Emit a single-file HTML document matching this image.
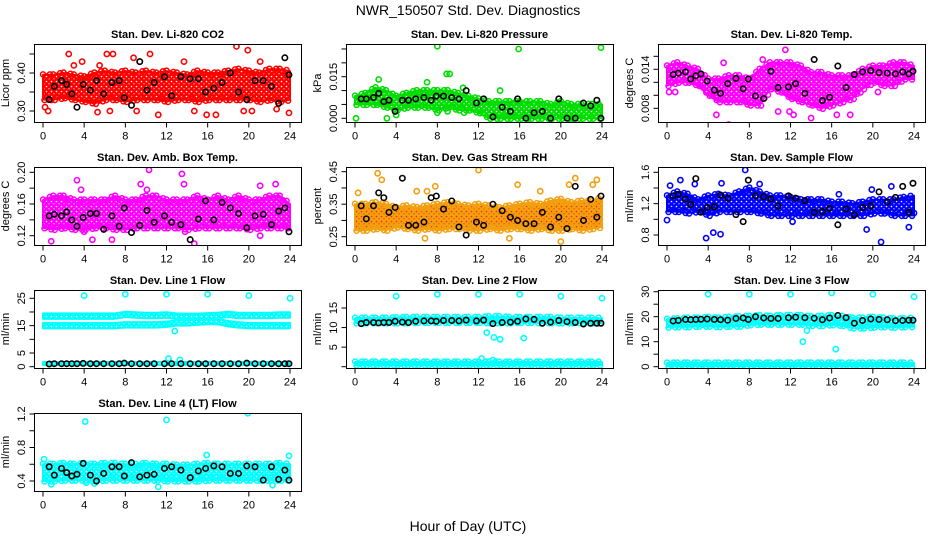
<!DOCTYPE html>
<html><head><meta charset="utf-8"><style>
html,body{margin:0;padding:0;background:#fff;}
svg{display:block;font-family:"Liberation Sans",sans-serif;}
</style></head><body>
<svg id="chart" width="936" height="540" viewBox="0 0 936 540">
<text x="468" y="15" font-size="14" text-anchor="middle">NWR_150507  Std. Dev. Diagnostics</text>
<text x="468" y="531" font-size="14" text-anchor="middle">Hour of Day (UTC)</text>
</svg>
<script>
const xTicks = [0,4,8,12,16,20,24];
const bandHours = [0,1,2,3,4,5,6,7,8,9,10,11,12,13,14,15,16,17,18,19,20,21,22,23,24];
const blkHours = [0.6,1.1,1.8,2.3,2.8,3.3,3.9,4.6,5.2,5.9,6.7,7.4,7.9,8.6,9.4,10.1,10.8,11.8,12.5,13.4,14.3,15.1,15.8,16.6,17.4,18.2,19.0,19.8,20.6,21.4,22.2,22.9,23.5,23.9];

// CO2
const co2Lo = [0.33,0.33,0.335,0.33,0.325,0.32,0.33,0.33,0.325,0.33,0.33,0.33,0.325,0.33,0.33,0.325,0.33,0.33,0.33,0.33,0.33,0.325,0.33,0.325,0.33];
const co2Hi = [0.395,0.395,0.4,0.395,0.39,0.4,0.405,0.4,0.405,0.4,0.405,0.4,0.405,0.4,0.395,0.405,0.4,0.4,0.405,0.41,0.405,0.4,0.41,0.41,0.405];
const co2OutX = [0.2,0.5,2.5,3.0,3.8,5.5,6.2,6.5,6.8,8.8,9.1,10.4,11.2,13.7,14.7,15.9,16.8,18.8,19.5,19.9,20.3,21.1,22.7,23.9,5.3];
const co2OutY = [0.31,0.3,0.45,0.42,0.43,0.42,0.45,0.3,0.45,0.44,0.3,0.45,0.29,0.43,0.3,0.29,0.29,0.47,0.3,0.46,0.3,0.43,0.305,0.295,0.297];
const co2Blk = [0.33,0.365,0.38,0.37,0.345,0.31,0.37,0.355,0.38,0.345,0.375,0.38,0.335,0.315,0.43,0.355,0.375,0.39,0.34,0.39,0.385,0.385,0.35,0.36,0.375,0.4,0.35,0.33,0.38,0.38,0.365,0.32,0.44,0.395];
// Pressure
const prLo = [0.005,0.005,0.005,0.004,0.003,0.004,0.004,0.004,0.003,0.004,0.003,0.003,0.002,0,0,0,0,0,0,0,0,0,0,0,0];
const prHi = [0.008,0.009,0.011,0.010,0.008,0.009,0.010,0.010,0.010,0.010,0.009,0.008,0.007,0.006,0.006,0.006,0.006,0.006,0.006,0.005,0.006,0.005,0.005,0.005,0.005];
const prOutX = [0.1,2.3,3.1,7.0,8.0,8.0,8.9,9.2,9.0,10.5,14.1,15.9,23.9,10.6,4.0];
const prOutY = [0,0.014,0,0.013,0.026,0.002,0.016,0.016,0.0025,0.011,0.010,0.025,0.0255,0.002,0.0012];
const prBlk = [0.007,0.007,0.0075,0.009,0.006,0.0065,0.0025,0.0065,0.0065,0.007,0.0075,0.0065,0.008,0.008,0.0075,0.007,0.01,0.0055,0.007,0.0005,0.004,0.0025,0.007,0.0,0.002,0.0025,0.0,0.007,0.0,0.0,0.0055,0.0045,0.0065,0.0];
// Li-820 Temp
const tpLo = [0.0115,0.012,0.012,0.0115,0.010,0.009,0.009,0.009,0.0085,0.0085,0.011,0.0105,0.0095,0.009,0.0085,0.008,0.0085,0.009,0.0095,0.011,0.012,0.0115,0.0115,0.0125,0.0125];
const tpHi = [0.0145,0.015,0.0145,0.014,0.0125,0.0125,0.013,0.013,0.0125,0.014,0.015,0.015,0.015,0.0145,0.0135,0.0135,0.013,0.013,0.013,0.014,0.0145,0.0145,0.015,0.015,0.0145];
const tpOutX = [0.2,0.8,4.8,5.5,6.0,9.3,10.8,11.5,11.9,12.3,14.0,15.8,16.5,17.8,15.5,20.5];
const tpOutY = [0.0105,0.0105,0.007,0.015,0.0055,0.0155,0.0075,0.017,0.0075,0.007,0.0065,0.005,0.007,0.007,0.0085,0.0105];
const tpBlk = [0.0132,0.0134,0.0136,0.0125,0.013,0.0133,0.0122,0.0108,0.0103,0.0118,0.0126,0.011,0.0125,0.0099,0.0095,0.0137,0.0112,0.0113,0.0118,0.0103,0.0155,0.0092,0.0097,0.0145,0.0112,0.0132,0.0136,0.0138,0.0135,0.0134,0.0133,0.0136,0.0133,0.0137];
// Amb box temp
const abLo = [0.13,0.128,0.13,0.128,0.128,0.13,0.13,0.128,0.128,0.13,0.13,0.13,0.13,0.13,0.128,0.13,0.13,0.13,0.13,0.13,0.128,0.13,0.13,0.13,0.13];
const abHi = [0.165,0.17,0.17,0.165,0.165,0.165,0.165,0.17,0.165,0.165,0.17,0.17,0.165,0.165,0.165,0.17,0.165,0.17,0.165,0.17,0.165,0.165,0.17,0.17,0.16];
const abOutX = [0.8,3.3,4.8,6.7,9.5,10.3,10.1,13.5,13.7,14.7,13.8,21.1,21.1,22.6,3.7,4.0];
const abOutY = [0.113,0.19,0.115,0.115,0.185,0.203,0.178,0.198,0.185,0.11,0.125,0.12,0.183,0.185,0.178,0.125];
const abBlk = [0.145,0.147,0.145,0.15,0.14,0.132,0.143,0.148,0.148,0.128,0.145,0.132,0.155,0.124,0.133,0.152,0.137,0.145,0.137,0.134,0.115,0.141,0.164,0.14,0.162,0.155,0.148,0.13,0.145,0.147,0.134,0.151,0.155,0.125];
// Gas stream RH
const rhLo = [0.27,0.27,0.275,0.27,0.28,0.275,0.27,0.275,0.27,0.275,0.275,0.27,0.27,0.275,0.27,0.275,0.275,0.27,0.275,0.27,0.27,0.275,0.27,0.275,0.28];
const rhHi = [0.35,0.35,0.355,0.35,0.34,0.345,0.34,0.345,0.35,0.355,0.35,0.345,0.35,0.345,0.34,0.345,0.35,0.355,0.35,0.36,0.365,0.355,0.36,0.36,0.37];
const rhOutX = [0.3,2.2,2.6,6.0,7.0,7.8,12.0,15.8,18.0,20.0,21.4,20.8,23.1,23.5,6.8,15.0];
const rhOutY = [0.385,0.445,0.425,0.39,0.39,0.405,0.455,0.41,0.39,0.235,0.43,0.41,0.41,0.425,0.245,0.245];
const rhBlk = [0.345,0.305,0.345,0.385,0.37,0.325,0.34,0.43,0.285,0.285,0.295,0.37,0.375,0.335,0.36,0.28,0.255,0.295,0.285,0.35,0.33,0.31,0.3,0.29,0.29,0.325,0.28,0.31,0.275,0.405,0.3,0.365,0.31,0.375];
// Sample flow
const sfLo = [1.1,1.1,1.08,1.1,1.05,1.1,1.1,1.1,1.1,1.08,1.05,1.05,1.05,1.05,1.05,1.05,1.05,1.05,1.05,1.05,1.08,1.08,1.05,1.05,1.05];
const sfHi = [1.3,1.35,1.32,1.25,1.3,1.32,1.3,1.35,1.4,1.35,1.3,1.3,1.28,1.25,1.25,1.25,1.22,1.22,1.2,1.22,1.25,1.25,1.25,1.28,1.3];
const sfOutX = [0.0,0.3,1.3,2.7,3.8,4.5,5.2,5.3,7.6,9.0,12.2,19.4,20.8,21.8,23.5,24,16.7,19.9];
const sfOutY = [0.99,1.43,1.5,1.45,0.76,0.83,0.81,1.46,1.63,1.45,0.97,0.87,0.71,1.42,0.9,1.08,1.32,1.38];
const sfBlk = [1.3,1.32,1.26,1.19,1.52,1.09,1.15,1.16,1.31,1.27,1.06,0.97,1.5,1.3,1.29,1.26,1.17,1.3,1.27,1.24,1.09,1.1,1.14,0.93,1.13,1.06,1.15,1.17,1.35,1.22,1.28,1.42,1.09,1.46];
// Line 1 flow
const l1aLo = [17.5,17.5,17.5,17.5,17.5,17.5,17.5,17.5,18.1,17.9,17.7,17.7,17.9,17.5,17.4,17.4,17.6,17.7,18.1,17.7,17.7,17.7,17.7,17.9,17.9];
const l1aHi = [19.5,19.5,19.5,19.5,19.5,19.5,19.5,19.5,20.1,19.9,19.7,19.7,19.9,19.5,19.4,19.4,19.6,19.7,20.1,19.7,19.7,19.7,19.7,19.9,19.9];
const l1bLo = [14.0,14.0,14.0,14.0,14.0,14.0,14.0,14.0,14.3,14.3,14.3,14.3,14.5,15.0,15.0,15.3,15.5,15.5,14.7,14.3,14.0,14.0,14.0,14.0,14.0];
const l1bHi = [16.0,16.0,16.0,16.0,16.0,16.0,16.0,16.0,16.3,16.3,16.3,16.3,16.5,17.0,17.0,17.3,17.5,17.5,16.7,16.3,16.0,16.0,16.0,16.0,16.0];
const l1cLo = [0.6,0.6,0.6,0.6,0.6,0.6,0.6,0.6,0.6,0.6,0.6,0.6,0.6,0.6,0.6,0.6,0.6,0.6,0.6,0.6,0.6,0.6,0.6,0.6,0.6];
const l1cHi = [1.7,1.7,1.7,1.7,1.7,1.7,1.7,1.7,1.7,1.7,1.7,1.7,1.7,1.7,1.7,1.7,1.7,1.7,1.7,1.7,1.7,1.7,1.7,1.7,1.7];
const l1OutX = [4,8,12,16,20,24,12.2,13.3,12.8];
const l1OutY = [26,26.5,26.5,26.5,26,25,3,2.5,13];
const l1Blk = [1.0,1.1,1.1,1.1,1.1,1.1,1.2,1.1,1.1,1.1,1.1,1.1,1.3,1.1,1.1,1.1,1.1,1.1,1.1,1.1,1.1,1.1,1.1,1.1,1.1,1.1,1.1,1.3,1.1,1.1,1.1,1.1,1.1,1.1];
// Line 2 flow
const l2aLo = [11.2,11.2,11.2,11.2,11.2,11.2,11.3,11.3,11.3,11.3,11.3,11.3,11.3,11.2,11.2,11.2,11.3,11.3,11.2,11.2,11.2,11.2,11.2,11.2,11.2];
const l2aHi = [12.4,12.4,12.4,12.4,12.5,12.6,12.6,12.6,12.6,12.6,12.6,12.6,12.6,12.8,12.8,12.6,12.6,12.6,12.6,12.6,12.4,12.4,12.4,12.4,12.4];
const l2bLo = [0.4,0.4,0.4,0.4,0.4,0.4,0.4,0.4,0.4,0.4,0.4,0.4,0.4,0.4,0.4,0.4,0.4,0.4,0.4,0.4,0.4,0.4,0.4,0.4,0.4];
const l2bHi = [1.2,1.2,1.2,1.2,1.2,1.2,1.2,1.2,1.2,1.2,1.2,1.2,1.2,1.2,1.2,1.2,1.2,1.2,1.2,1.2,1.2,1.2,1.2,1.2,1.2];
const l2OutX = [4,8,12,16,20,24,12.8,13.5,14.1,16.4,12.3,13.4];
const l2OutY = [18,18.5,18.5,18.5,18,17.5,8.7,7.5,7,7.3,2.1,1.7];
const l2Blk = [11.0,11.3,11.3,11.2,11.3,11.3,11.6,11.4,11.3,11.6,11.7,11.7,11.6,11.8,11.8,11.7,11.9,11.7,11.9,11.0,11.3,11.4,11.6,12.2,12.1,11.1,11.4,11.8,11.5,11.3,10.9,11.1,11.1,11.1];
// Line 3 flow
const l3aLo = [15.8,16.0,16.0,16.2,16.2,16.0,16.2,16.2,16.8,17.0,17.0,17.0,17.0,17.0,16.5,16.5,16.8,16.5,15.5,15.5,15.8,16.0,15.8,16.0,16.0];
const l3aHi = [19.0,19.2,19.5,19.5,19.8,19.5,19.8,20.0,20.2,20.5,20.2,20.5,20.5,20.5,20.0,20.2,20.5,20.2,19.5,19.5,19.8,19.5,19.2,19.2,19.5];
const l3bLo = [0.3,0.3,0.3,0.3,0.3,0.3,0.3,0.3,0.3,0.3,0.3,0.3,0.3,0.3,0.3,0.3,0.3,0.3,0.3,0.3,0.3,0.3,0.3,0.3,0.3];
const l3bHi = [1.5,1.5,1.5,1.5,1.5,1.5,1.5,1.5,1.5,1.5,1.5,1.5,1.5,1.5,1.5,1.5,1.5,1.5,1.5,1.5,1.5,1.5,1.5,1.5,1.5];
const l3OutX = [4,8,12,16,20,24,13.2,13.6,16.4];
const l3OutY = [29,29,29,29.5,29,28,10,14.5,7];
const l3Blk = [18.3,18.5,18.9,18.8,18.9,19.0,19.1,18.9,18.8,18.6,19.3,19.5,18.9,20.0,19.5,19.3,19.3,19.6,19.8,19.6,19.4,18.8,19.5,20.5,19.6,17.4,18.5,19.1,18.9,18.8,18.4,18.5,18.6,18.6];
// Line 4 flow
const l4Lo = [0.40,0.40,0.41,0.41,0.41,0.40,0.41,0.41,0.41,0.41,0.41,0.41,0.40,0.40,0.40,0.40,0.41,0.41,0.41,0.41,0.41,0.41,0.41,0.41,0.41];
const l4Hi = [0.60,0.60,0.61,0.60,0.61,0.60,0.61,0.61,0.60,0.60,0.61,0.60,0.60,0.59,0.59,0.60,0.61,0.60,0.60,0.60,0.60,0.60,0.60,0.61,0.60];
const l4OutX = [0.1,4.1,12,19.9,15.9,23.9,11.2,22.3,4.2,0.8,5.0];
const l4OutY = [0.66,1.11,1.13,1.21,0.71,0.70,0.33,0.35,0.38,0.36,0.37];
const l4Blk = [0.57,0.47,0.55,0.50,0.46,0.48,0.61,0.47,0.40,0.49,0.57,0.57,0.46,0.62,0.45,0.47,0.48,0.55,0.57,0.53,0.44,0.52,0.55,0.58,0.57,0.49,0.49,0.58,0.57,0.41,0.57,0.42,0.53,0.41];

const NS = "http://www.w3.org/2000/svg";
const svg = document.getElementById('chart');
function mk(tag, attrs, parent){ const e=document.createElementNS(NS,tag); for(const k in attrs) e.setAttribute(k,attrs[k]); (parent||svg).appendChild(e); return e; }

const panels = [
 {key:'co2',title:'Stan. Dev. Li-820 CO2',yl:'Licor ppm',left:34,top:44,c:[0.30,111,0.40,73],ticks:[0.30,0.35,0.40,0.45],labs:['0.30','','0.40',''],col:'#ff0000',bands:[[co2Lo,co2Hi]],ox:co2OutX,oy:co2OutY,blk:co2Blk},
 {key:'pressure',title:'Stan. Dev. Li-820 Pressure',yl:'kPa',left:346,top:44,c:[0,118.3,0.015,76.7],ticks:[0,0.005,0.010,0.015,0.020,0.025],labs:['0.000','','','0.015','',''],col:'#00dd00',bands:[[prLo,prHi]],ox:prOutX,oy:prOutY,blk:prBlk},
 {key:'li820-temp',title:'Stan. Dev. Li-820 Temp.',yl:'degrees C',left:658,top:44,c:[0.014,69.3,0.008,108.3],ticks:[0.008,0.010,0.012,0.014,0.016],labs:['0.008','','','0.014',''],col:'#ff00ff',bands:[[tpLo,tpHi]],ox:tpOutX,oy:tpOutY,blk:tpBlk},
 {key:'amb-box-temp',title:'Stan. Dev. Amb. Box Temp.',yl:'degrees C',left:34,top:167,c:[0.20,172.3,0.12,235.7],ticks:[0.12,0.14,0.16,0.18,0.20],labs:['0.12','','0.16','','0.20'],col:'#ff00ff',bands:[[abLo,abHi]],ox:abOutX,oy:abOutY,blk:abBlk},
 {key:'gas-rh',title:'Stan. Dev. Gas Stream RH',yl:'percent',left:346,top:167,c:[0.45,171.7,0.25,236.7],ticks:[0.25,0.30,0.35,0.40,0.45],labs:['0.25','','0.35','','0.45'],col:'#f2a010',dot:'#ff2000',bands:[[rhLo,rhHi]],ox:rhOutX,oy:rhOutY,blk:rhBlk},
 {key:'sample-flow',title:'Stan. Dev. Sample Flow',yl:'ml/min',left:658,top:167,c:[1.6,172.3,0.8,235],ticks:[0.8,1.0,1.2,1.4,1.6],labs:['0.8','','1.2','','1.6'],col:'#0000ff',bands:[[sfLo,sfHi]],ox:sfOutX,oy:sfOutY,blk:sfBlk},
 {key:'line1-flow',noEdge:true,title:'Stan. Dev. Line 1 Flow',yl:'ml/min',left:34,top:290,c:[25,298.3,0,366.7],ticks:[0,5,10,15,20,25],labs:['0','5','','15','','25'],col:'#00ffff',bands:[[l1aLo,l1aHi],[l1bLo,l1bHi],[l1cLo,l1cHi]],ox:l1OutX,oy:l1OutY,blk:l1Blk},
 {key:'line2-flow',title:'Stan. Dev. Line 2 Flow',yl:'ml/min',left:346,top:290,c:[15,308,0,366.7],ticks:[0,5,10,15],labs:['','5','10','15'],col:'#00ffff',bands:[[l2aLo,l2aHi],[l2bLo,l2bHi]],ox:l2OutX,oy:l2OutY,blk:l2Blk},
 {key:'line3-flow',title:'Stan. Dev. Line 3 Flow',yl:'ml/min',left:658,top:290,c:[30,291.7,0,366.7],ticks:[0,5,10,15,20,25,30],labs:['0','','10','','20','','30'],col:'#00ffff',bands:[[l3aLo,l3aHi],[l3bLo,l3bHi]],ox:l3OutX,oy:l3OutY,blk:l3Blk},
 {key:'line4-flow',title:'Stan. Dev. Line 4 (LT) Flow',yl:'ml/min',left:34,top:413,c:[1.2,414,0.4,481],ticks:[0.4,0.6,0.8,1.0,1.2],labs:['0.4','','0.8','','1.2'],col:'#00ffff',bands:[[l4Lo,l4Hi]],ox:l4OutX,oy:l4OutY,blk:l4Blk}
];

const defs = mk('defs',{});
const W=267, H=78;
panels.forEach(p=>{
  const g = mk('g',{});
  
  
  const xs = h => p.left + 9 + h*(247/24);
  const ys = v => p.c[1] + (v - p.c[0])*(p.c[3]-p.c[1])/(p.c[2]-p.c[0]);
  const patId = 'pat-'+p.key;
  const pat = mk('pattern',{id:patId,width:5,height:5,patternUnits:'userSpaceOnUse'},defs);
  mk('rect',{x:0,y:0,width:5,height:5,fill:p.col},pat);
  mk('circle',{cx:1.5,cy:1.5,r:0.8,fill:p.dot||'#ffffff'},pat);
  mk('circle',{cx:4,cy:3.8,r:0.6,fill:p.dot||'#ffffff'},pat);
  const clipId = 'clip-'+p.key;
  const cp = mk('clipPath',{id:clipId},g);
  mk('rect',{x:p.left,y:p.top,width:W,height:H},cp);
  const plot = mk('g',{'clip-path':'url(#'+clipId+')'},g);
  
  
  p.bands.forEach((b,bi)=>{
    const lo=b[0], hi=b[1];
    let pts=[];
    bandHours.forEach((h,i)=>pts.push(xs(h)+','+ys(hi[i])));
    for(let i=bandHours.length-1;i>=0;i--) pts.push(xs(bandHours[i])+','+ys(lo[i]));
    const poly = mk('polygon',{points:pts.join(' '),fill:'url(#'+patId+')',stroke:p.col,'stroke-width':2,'stroke-linejoin':'round'},plot);
    
    
    if(p.noEdge) return;
    for(let i=0;i<bandHours.length-1;i++){
      for(let f=0;f<3;f++){
        const t=f/3, h=bandHours[i]+t*(bandHours[i+1]-bandHours[i]);
        const vh=hi[i]+t*(hi[i+1]-hi[i]), vl=lo[i]+t*(lo[i+1]-lo[i]);
        const off=(f%2?1:-1);
        const c1=mk('circle',{cx:xs(h),cy:ys(vh)+0.5+off,r:2.5,fill:'none',stroke:p.col,'stroke-width':1.5},plot);
        
        
        const c2=mk('circle',{cx:xs(h)+1.5,cy:ys(vl)-0.5-off,r:2.5,fill:'none',stroke:p.col,'stroke-width':1.5},plot);
        
        
      }
    }
  });
  p.ox.forEach((h,i)=>{
    const c = mk('circle',{cx:xs(h),cy:ys(p.oy[i]),r:2.6,fill:'none',stroke:p.col,'stroke-width':1.6},plot);
    
    
  });
  blkHours.forEach((h,i)=>{
    const c = mk('circle',{cx:xs(h),cy:ys(p.blk[i]),r:2.7,fill:'none',stroke:'#000','stroke-width':1.6},plot);
    
    
  });
  const box = mk('rect',{x:p.left+0.5,y:p.top+0.5,width:W,height:H,fill:'none',stroke:'#000','stroke-width':1},g);
  
  
  const bottom = p.top+H+0.5;
  xTicks.forEach(t=>{
    const x = xs(t);
    mk('line',{x1:x,x2:x,y1:bottom,y2:bottom+5,stroke:'#000','stroke-width':1},g);
    const tx = mk('text',{x:x,y:bottom+17,'font-size':11,'text-anchor':'middle'},g);
    tx.textContent = t;
    
    
  });
  p.ticks.forEach((t,i)=>{
    const y = ys(t);
    mk('line',{x1:p.left+0.5,x2:p.left-4.5,y1:y,y2:y,stroke:'#000','stroke-width':1},g);
    if(p.labs[i]){
      const tx = mk('text',{x:p.left-9,y:y,'font-size':11,'text-anchor':'middle',transform:'rotate(-90 '+(p.left-9)+' '+y+')'},g);
      tx.textContent = p.labs[i];
      
      
    }
  });
  const yc = p.top + H/2;
  const yl = mk('text',{x:p.left-25,y:yc,'font-size':11,'text-anchor':'middle',transform:'rotate(-90 '+(p.left-25)+' '+yc+')'},g);
  yl.textContent = p.yl;
  
  
  const tt = mk('text',{x:p.left+W/2,y:p.top-6,'font-size':11,'font-weight':'bold','text-anchor':'middle'},g);
  tt.textContent = p.title;
  
  
});
</script>
</body></html>
